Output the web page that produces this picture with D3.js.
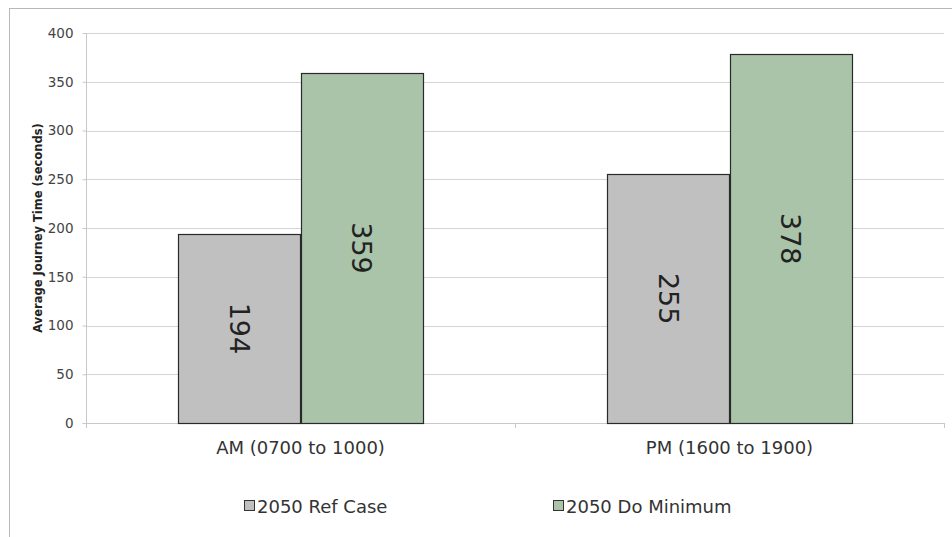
<!DOCTYPE html>
<html>
<head>
<meta charset="utf-8">
<script src="https://cdn.jsdelivr.net/npm/d3@7"></script>
<style>
  html, body { margin: 0; padding: 0; background: #fff; }
  svg { display: block; font-family: "DejaVu Sans", sans-serif; }
</style>
</head>
<body>
<svg id="chart" width="952" height="537"></svg>
<script>
// Periods along the x axis
const categories = ["AM (0700 to 1000)", "PM (1600 to 1900)"];
// Series names and their values (seconds)
const seriesNames = ["2050 Ref Case", "2050 Do Minimum"];
const refCase = [194, 255];
const doMinimum = [359, 378];
const yTicks = [0, 50, 100, 150, 200, 250, 300, 350, 400];
const seriesColors = ["#c0c0c0", "#a9c4a9"];

const svg = d3.select("#chart");
const W = 952, H = 537;
const plot = { left: 86, right: 944, top: 33, bottom: 423 };

// Outer chart frame
svg.append("rect")
  .attr("x", 9.5).attr("y", 8.5)
  .attr("width", W + 20).attr("height", H + 20)
  .attr("fill", "none").attr("stroke", "#b8b8b8").attr("stroke-width", 1);

const x0 = d3.scaleBand().domain(categories).range([plot.left, plot.right]).padding(0);
const x1 = d3.scaleBand().domain(seriesNames).range([0, x0.bandwidth()]).paddingInner(0).paddingOuter(0.758);
const y = d3.scaleLinear().domain([0, 400]).range([plot.bottom, plot.top]);

// Horizontal gridlines
svg.append("g").selectAll("line").data(yTicks.filter(d => d > 0)).join("line")
  .attr("x1", plot.left).attr("x2", plot.right)
  .attr("y1", d => Math.round(y(d)) + 0.5).attr("y2", d => Math.round(y(d)) + 0.5)
  .attr("stroke", "#d4d4d4").attr("stroke-width", 1);

// Y axis
const yAxis = svg.append("g")
  .attr("transform", `translate(${plot.left + 0.5},0)`)
  .call(d3.axisLeft(y).tickValues(yTicks).tickSize(4).tickPadding(9));
yAxis.select(".domain").attr("stroke", "#c8c8c8").attr("d", `M0,${plot.top}V${plot.bottom + 4}`);
yAxis.selectAll(".tick line").attr("stroke", "#c8c8c8");
yAxis.selectAll(".tick text")
  .attr("font-size", 13.5).attr("fill", "#444").attr("font-family", "DejaVu Sans, sans-serif");

// Y axis title
svg.append("text")
  .attr("transform", `translate(42,${(plot.top + plot.bottom) / 2}) rotate(-90)`)
  .attr("text-anchor", "middle")
  .attr("font-size", 11.5).attr("font-weight", "bold").attr("fill", "#222")
  .text("Average Journey Time (seconds)");

// X axis baseline with tick marks at band edges
const xg = svg.append("g");
xg.append("line")
  .attr("x1", plot.left).attr("x2", plot.right)
  .attr("y1", plot.bottom + 0.5).attr("y2", plot.bottom + 0.5)
  .attr("stroke", "#c8c8c8");
const edges = [plot.left, ...categories.map(c => x0(c) + x0.bandwidth())];
xg.selectAll("line.tk").data(edges).join("line").attr("class", "tk")
  .attr("x1", d => Math.round(d) + 0.5).attr("x2", d => Math.round(d) + 0.5)
  .attr("y1", plot.bottom).attr("y2", plot.bottom + 5)
  .attr("stroke", "#c8c8c8");
xg.selectAll("text").data(categories).join("text")
  .attr("x", d => x0(d) + x0.bandwidth() / 2)
  .attr("y", plot.bottom + 31)
  .attr("text-anchor", "middle")
  .attr("font-size", 18).attr("fill", "#333")
  .text(d => d);

// Bars
const rows = categories.map((c, i) => ({
  cat: c,
  vals: [{ s: seriesNames[0], v: refCase[i], k: 0 }, { s: seriesNames[1], v: doMinimum[i], k: 1 }]
}));
const groups = svg.append("g").selectAll("g").data(rows).join("g")
  .attr("transform", d => `translate(${x0(d.cat)},0)`);
groups.selectAll("rect").data(d => d.vals).join("rect")
  .attr("x", d => Math.round(x1(d.s)) + 0.5)
  .attr("y", d => Math.round(y(d.v)) + 0.5)
  .attr("width", Math.round(x1.bandwidth()))
  .attr("height", d => Math.round(y(0)) - Math.round(y(d.v)))
  .attr("fill", d => seriesColors[d.k])
  .attr("stroke", "#2a2a2a").attr("stroke-width", 1.2);

// Value labels, rotated, centered in each bar
groups.selectAll("text").data(d => d.vals).join("text")
  .attr("transform", d => `translate(${x1(d.s) + x1.bandwidth() / 2},${(y(d.v) + y(0)) / 2}) rotate(90)`)
  .attr("text-anchor", "middle").attr("dominant-baseline", "central")
  .attr("font-size", 27).attr("fill", "#222")
  .text(d => d.v);

// Legend
const legendX = [244, 553];
const lg = svg.append("g").selectAll("g").data(seriesNames).join("g")
  .attr("transform", (d, i) => `translate(${legendX[i]},500)`);
lg.append("rect").attr("x", 0.5).attr("y", 0.5).attr("width", 10).attr("height", 10)
  .attr("fill", (d, i) => seriesColors[i]).attr("stroke", "#333").attr("stroke-width", 1);
lg.append("text").attr("x", 13).attr("y", 6).attr("dominant-baseline", "central")
  .attr("font-size", 18).attr("fill", "#333").text(d => d);
</script>
</body>
</html>
